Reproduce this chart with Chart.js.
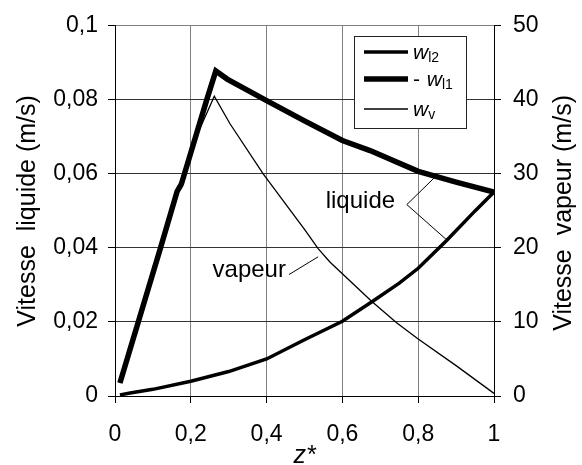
<!DOCTYPE html>
<html>
<head>
<meta charset="utf-8">
<script src="https://cdn.jsdelivr.net/npm/chart.js@4.4.1/dist/chart.umd.min.js"></script>
<style>
  html, body { margin: 0; padding: 0; background: #fff; overflow: hidden; }
  #wrap { position: relative; width: 582px; height: 478px; }
</style>
</head>
<body>
<div id="wrap"><canvas id="chart"></canvas></div>
<script>
// =========================
// DATA
// =========================
// -w_l1 : liquid, thick curve rising then falling (left axis, m/s)
const zL1 = [0.013, 0.06, 0.12, 0.164, 0.175, 0.242, 0.266, 0.296, 0.4, 0.5, 0.6, 0.673, 0.8, 0.9, 1.0];
const wL1 = [0.0035, 0.0195, 0.040, 0.0553, 0.0572, 0.080, 0.0878, 0.0856, 0.0798, 0.0743, 0.0690, 0.0663, 0.0607, 0.0578, 0.0551];

// w_l2 : liquid, lower rising curve (left axis, m/s)
const zL2 = [0.013, 0.04, 0.1, 0.2, 0.3, 0.4, 0.5, 0.6, 0.68, 0.75, 0.8, 0.875, 0.95, 1.0];
const wL2 = [0.0003, 0.0008, 0.0018, 0.0040, 0.0066, 0.0100, 0.0152, 0.0202, 0.0256, 0.0305, 0.0345, 0.0420, 0.0500, 0.0551];

// w_v : vapour, thin curve (right axis, m/s)
const zV = [0.013, 0.06, 0.12, 0.166, 0.203, 0.262, 0.303, 0.391, 0.5, 0.536, 0.567, 0.677, 0.743, 0.8, 0.9, 1.0];
const wV = [1.75, 9.75, 20, 27.5, 33.7, 40.5, 36.8, 30.0, 22.5, 19.9, 18.1, 12.8, 9.9, 7.7, 4.1, 0.35];

// legend entries: prefix (upright), symbol (italic), subscript
const legendPrefix = ['', '- ', ''];
const legendSymbol = ['w', 'w', 'w'];
const legendSub = ['l2', 'l1', 'v'];

const xTitle = 'z*';
const yTitle = 'Vitesse  liquide (m/s)';
const y1Title = 'Vitesse  vapeur (m/s)';

// annotation labels
const noteLiquide = 'liquide';
const noteVapeur = 'vapeur';

// =========================
// HELPERS
// =========================
const FONT = '"Liberation Sans", Arial, sans-serif';

function pts(xs, ys) {
    return xs.map((x, i) => ({ x: x, y: ys[i] }));
}

function fmt(v) {
    return String(+v.toFixed(3)).replace('.', ',');
}

// =========================
// LEGEND PLUGIN
// =========================
const legendWidths = [3.5, 5.5, 1.3];

const legendBox = {
    id: 'legendBox',
    afterDraw(chart) {
        const c = chart.ctx;
        const bx = 354.5, by = 36.5, bw = 112, bh = 92;
        c.save();
        c.fillStyle = '#fff';
        c.fillRect(bx, by, bw, bh);
        c.strokeStyle = '#222';
        c.lineWidth = 1;
        c.strokeRect(bx, by, bw, bh);

        const rows = [52, 79, 109];
        rows.forEach((ry, i) => {
            c.beginPath();
            c.lineWidth = legendWidths[i];
            c.strokeStyle = '#000';
            c.moveTo(364, ry);
            c.lineTo(408, ry);
            c.stroke();

            let tx = 413;
            c.fillStyle = '#000';
            c.textBaseline = 'alphabetic';
            c.font = '21px ' + FONT;
            if (legendPrefix[i]) {
                c.fillText(legendPrefix[i], tx, ry + 7);
                tx += c.measureText(legendPrefix[i]).width + 1;
            }
            c.font = 'italic 21px ' + FONT;
            c.fillText(legendSymbol[i], tx, ry + 7);
            tx += c.measureText(legendSymbol[i]).width;
            c.font = '14px ' + FONT;
            c.fillText(legendSub[i], tx, ry + 10);
        });
        c.restore();
    }
};

// =========================
// ANNOTATIONS + TITLES PLUGIN
// =========================
const notes = [
    { text: noteLiquide, x: 0.739, y: 0.0525,
      from: [0.770, 0.0517], to: [[0.850, 0.0597], [0.876, 0.0421]] },
    { text: noteVapeur, x: 0.451, y: 0.0339,
      from: [0.459, 0.0328], to: [[0.536, 0.0376]] }
];

const annotations = {
    id: 'annotations',
    afterDatasetsDraw(chart) {
        const c = chart.ctx;
        const sx = chart.scales.x, sy = chart.scales.y;
        const area = chart.chartArea;
        c.save();
        c.fillStyle = '#000';
        c.strokeStyle = '#000';
        c.lineWidth = 1;
        c.font = '24px ' + FONT;
        c.textAlign = 'right';
        c.textBaseline = 'middle';
        notes.forEach(n => {
            c.fillText(n.text, sx.getPixelForValue(n.x), sy.getPixelForValue(n.y));
            n.to.forEach(t => {
                c.beginPath();
                c.moveTo(sx.getPixelForValue(n.from[0]), sy.getPixelForValue(n.from[1]));
                c.lineTo(sx.getPixelForValue(t[0]), sy.getPixelForValue(t[1]));
                c.stroke();
            });
        });

        // x title
        c.textAlign = 'center';
        c.font = 'italic 25px ' + FONT;
        c.fillText(xTitle, (area.left + area.right) / 2, area.bottom + 60);

        // right axis title, read bottom to top like the left one
        c.translate(564, (area.top + area.bottom) / 2 + 2);
        c.rotate(-Math.PI / 2);
        c.font = '25px ' + FONT;
        c.fillText(y1Title, 0, 0);
        c.restore();
    }
};

// =========================
// CHART
// =========================
const tickFont = { family: FONT, size: 23 };
const titleFont = { family: FONT, size: 25 };

new Chart(document.getElementById('chart'), {
    type: 'line',
    data: {
        datasets: [
            { label: 'w_l2', data: pts(zL2, wL2), yAxisID: 'y',
              borderColor: '#000', borderWidth: 3.5, pointRadius: 0, tension: 0 },
            { label: '-w_l1', data: pts(zL1, wL1), yAxisID: 'y',
              borderColor: '#000', borderWidth: 5.5, pointRadius: 0, tension: 0 },
            { label: 'w_v', data: pts(zV, wV), yAxisID: 'y1',
              borderColor: '#000', borderWidth: 1.3, pointRadius: 0, tension: 0 }
        ]
    },
    options: {
        responsive: true,
        maintainAspectRatio: false,
        animation: false,
        layout: { padding: { top: 21, left: 0, right: 0, bottom: 0 } },
        plugins: { legend: { display: false }, tooltip: { enabled: false } },
        scales: {
            x: {
                type: 'linear', min: 0, max: 1,
                ticks: { stepSize: 0.2, color: '#000', font: tickFont, padding: 18,
                         maxRotation: 0, callback: v => fmt(v) },
                grid: { color: '#808080', tickColor: '#000', tickLength: 7, lineWidth: 1 },
                border: { display: true, color: '#000', width: 1 },
                title: { display: false },
                afterFit: s => { s.height = 478 - 21 - 375; }
            },
            y: {
                type: 'linear', position: 'left', min: 0, max: 0.1,
                ticks: { stepSize: 0.02, color: '#000', font: tickFont, padding: 10,
                         callback: v => fmt(v) },
                grid: { color: ctx => (ctx.tick && ctx.tick.value === 0.1) ? '#808080' : '#333',
                        tickColor: '#000', tickLength: 7, lineWidth: 1 },
                border: { display: true, color: '#000', width: 1 },
                title: { display: true, text: yTitle, color: '#000', font: titleFont,
                         padding: { top: 13, bottom: 0 } },
                afterFit: s => { s.width = 115; }
            },
            y1: {
                type: 'linear', position: 'right', min: 0, max: 50,
                ticks: { stepSize: 10, color: '#000', font: tickFont, padding: 12,
                         callback: v => fmt(v) },
                grid: { drawOnChartArea: false, tickColor: '#000', tickLength: 7 },
                border: { display: true, color: '#000', width: 1 },
                title: { display: false },
                afterFit: s => { s.width = 88; }
            }
        }
    },
    plugins: [annotations, legendBox]
});
</script>
</body>
</html>
